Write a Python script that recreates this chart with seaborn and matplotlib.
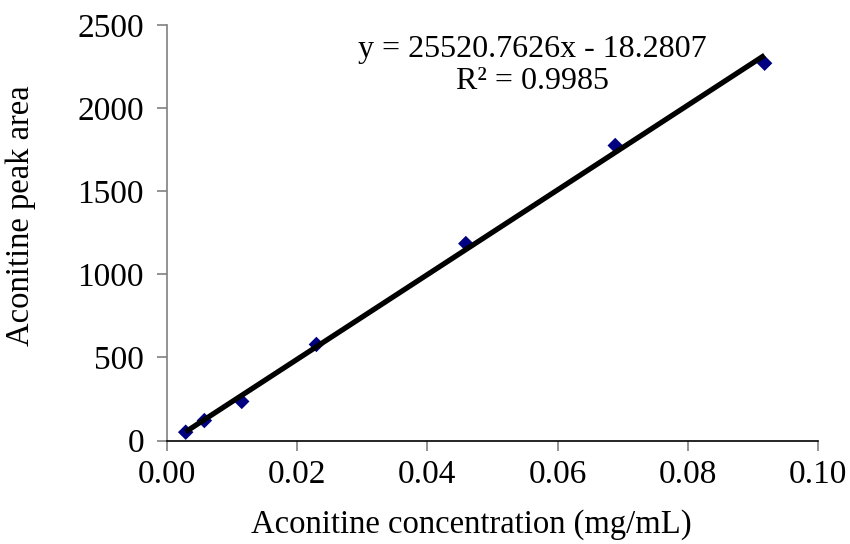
import numpy as np
import pandas as pd
import matplotlib
matplotlib.use("Agg")
import matplotlib.pyplot as plt
import seaborn as sns

conc = [0.00287, 0.00574, 0.01148, 0.02295, 0.0459, 0.06885, 0.0918]
area = [50, 120, 235, 578, 1185, 1775, 2270]
x_ticks = [0.00, 0.02, 0.04, 0.06, 0.08, 0.10]
y_ticks = [0, 500, 1000, 1500, 2000, 2500]
equation_text = "y = 25520.7626x - 18.2807\nR² = 0.9985"

df = pd.DataFrame({"conc": conc, "area": area})

sns.set_style("white")
plt.rcParams["font.family"] = ["Liberation Serif", "DejaVu Serif"]
plt.rcParams["text.color"] = "black"
plt.rcParams["axes.labelcolor"] = "black"
plt.rcParams["xtick.labelcolor"] = "black"
plt.rcParams["ytick.labelcolor"] = "black"

fig = plt.figure(figsize=(8.5, 5.44), dpi=100)
ax = fig.add_axes([167/850, 1-440.5/544, (818-167)/850, (440.5-25)/544])

sns.regplot(data=df, x="conc", y="area", ax=ax, ci=None,
            marker="D",
            scatter_kws={"s": 62, "color": "#000080", "alpha": 1.0,
                         "edgecolor": "none", "zorder": 2},
            line_kws={"color": "black", "linewidth": 3.8, "zorder": 3,
                      "solid_capstyle": "butt"})

ax.set_xlim(0, 0.10)
ax.set_ylim(0, 2500)
ax.set_xticks(x_ticks)
ax.set_xticklabels([f"{v:.2f}" for v in x_ticks])
ax.set_yticks(y_ticks)
ax.set_yticklabels([str(v) for v in y_ticks])

for s in ["top", "right"]:
    ax.spines[s].set_visible(False)
ax.spines["bottom"].set_color("black")
ax.spines["bottom"].set_linewidth(1.2)
ax.spines["left"].set_color("#808080")
ax.spines["left"].set_linewidth(1.2)

ax.tick_params(axis="both", which="major", labelsize=24, direction="out",
               length=7, width=1.2, color="#808080", labelcolor="black",
               left=True, bottom=True)
ax.tick_params(axis="x", pad=7)
ax.tick_params(axis="y", pad=9.5)

ax.set_xlabel("Aconitine concentration (mg/mL)", fontsize=23.5, color="black")
ax.set_ylabel("Aconitine peak area", fontsize=23.5, color="black")
ax.xaxis.set_label_coords((471-167)/(818-167), -(509-440.5)/(440.5-25))
ax.yaxis.set_label_coords(-(167-36)/(818-167), (440.5-216)/(440.5-25))

fig.text(532/850, 1-65.5/544, equation_text, ha="center", va="center",
         fontsize=23, linespacing=1.12, color="black")

fig.savefig("out.png", dpi=100, facecolor="white")
